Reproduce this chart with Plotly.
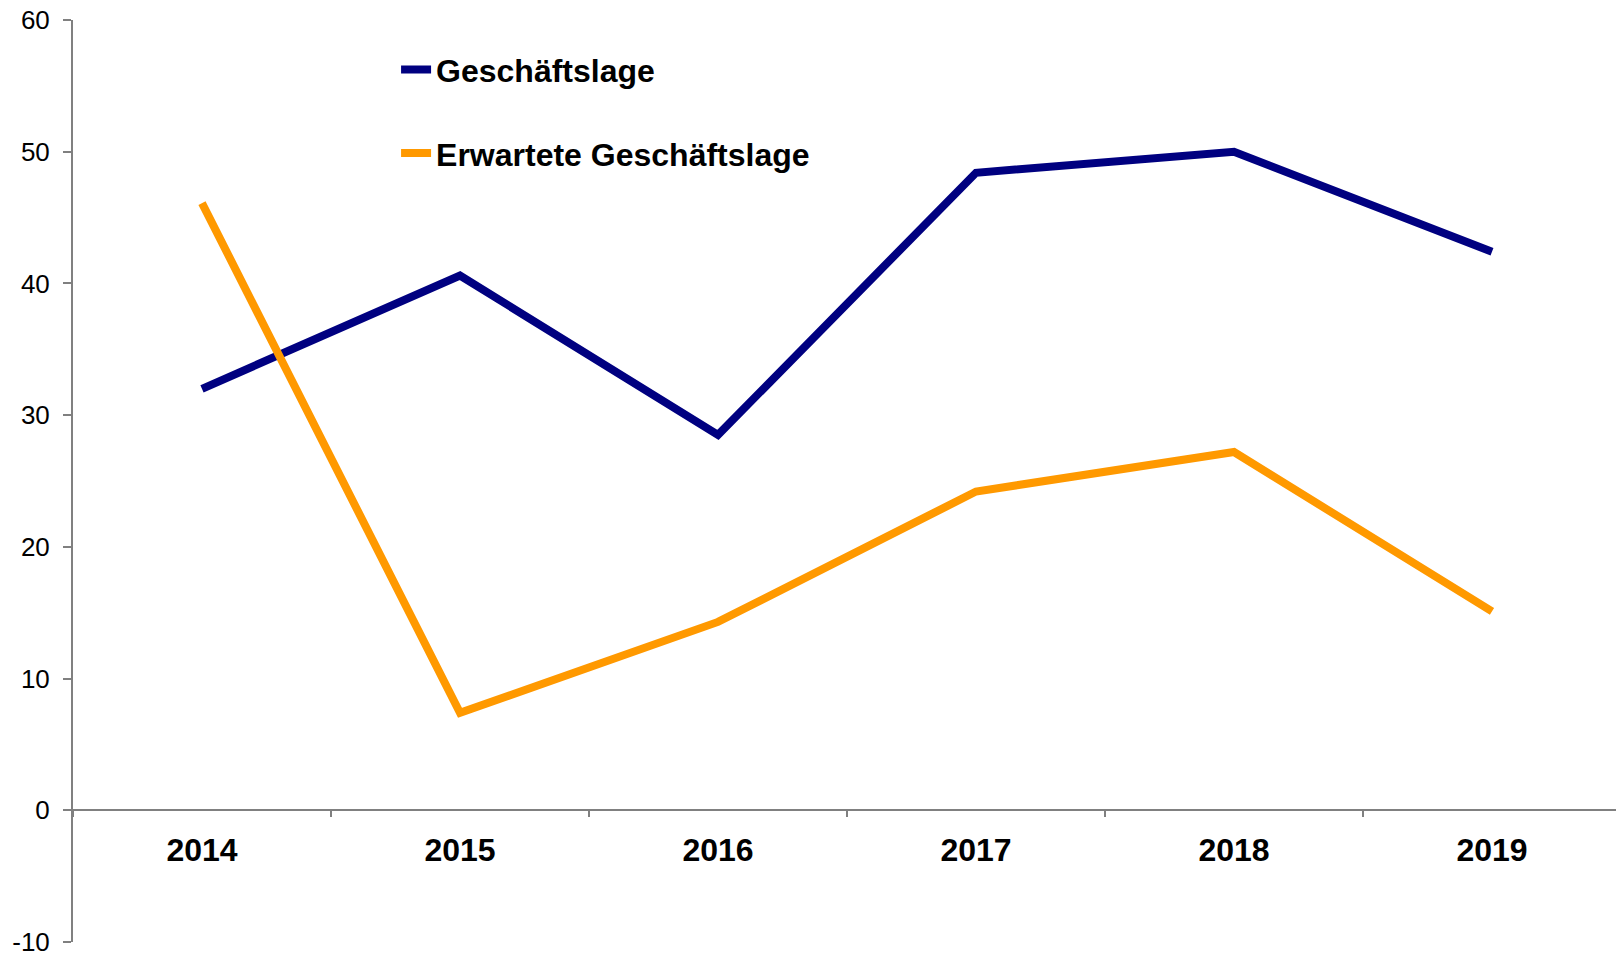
import plotly.graph_objects as go

years = ["2014", "2015", "2016", "2017", "2018", "2019"]
geschaeftslage = [32.0, 40.6, 28.5, 48.4, 50.0, 42.4]
erwartete = [46.1, 7.4, 14.3, 24.2, 27.2, 15.1]
y_tick_vals = [-10, 0, 10, 20, 30, 40, 50, 60]
y_tick_labels = ["-10", "0", "10", "20", "30", "40", "50", "60"]

fig = go.Figure()
fig.add_trace(go.Scatter(x=years, y=geschaeftslage, mode="lines", name="Geschäftslage",
                         legendgroup="a",
                         line=dict(color="#000080", width=8)))
fig.add_trace(go.Scatter(x=years, y=erwartete, mode="lines", name="Erwartete Geschäftslage",
                         legendgroup="b",
                         line=dict(color="#FF9900", width=8)))

xpos = 10.0 / 70.0

fig.update_layout(
    width=1624, height=953,
    margin=dict(l=65, r=11, t=12, b=19),
    paper_bgcolor="white", plot_bgcolor="white",
    font=dict(family="Liberation Sans, Arial", color="black"),
    showlegend=True,
    legend=dict(x=0.2087, y=0.976, xanchor="left", yanchor="top",
                font=dict(size=32, family="Liberation Sans, Arial", color="black", weight="bold"),
                traceorder="grouped", tracegroupgap=39, bgcolor="rgba(0,0,0,0)"),
    xaxis=dict(type="category", range=[-0.5, 5.5], anchor="free", position=xpos,
               automargin=False,
               showline=True, linecolor="#808080", linewidth=2,
               ticks="outside", tickson="boundaries", ticklen=6, tickcolor="#808080", tickwidth=2,
               showgrid=False, zeroline=False,
               tickfont=dict(size=32, family="Liberation Sans, Arial", color="black", weight="bold"),
               ticklabelstandoff=11),
    yaxis=dict(range=[-10, 60], tickmode="array", tickvals=y_tick_vals, ticktext=y_tick_labels,
               automargin=False, ticklabeloverflow="allow",
               showline=True, linecolor="#808080", linewidth=2,
               ticks="outside", ticklen=8, tickcolor="#808080", tickwidth=2,
               showgrid=False, zeroline=False,
               tickfont=dict(size=26, family="Liberation Sans, Arial", color="black"),
               ticklabelstandoff=8),
)

fig.write_html("out.html")
